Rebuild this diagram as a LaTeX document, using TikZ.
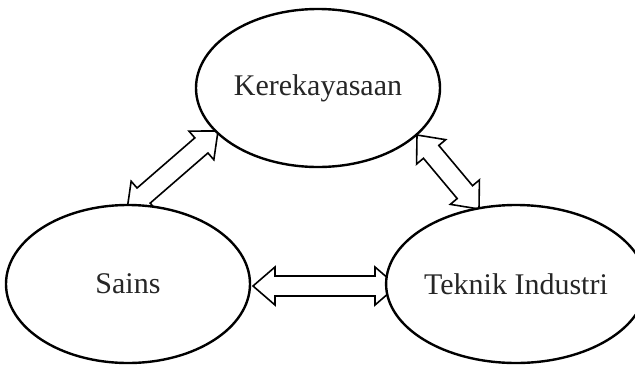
\documentclass[tikz,border=0pt]{standalone}
\usepackage{fontspec}
\setmainfont{Liberation Serif}
\usetikzlibrary{calc,shapes.geometric}

% block double arrow between two tip coordinates
\newcommand\baHead{22pt}   % head length
\newcommand\baWing{19pt}   % half width of the head
\newcommand\baShaft{10pt}  % half width of the shaft
\newcommand\blockarrow[2]{%
  \draw[blockarrow] (#1)
    -- ($(#1)!\baHead!(#2)!\baWing!90:(#2)$)
    -- ($(#1)!\baHead!(#2)!\baShaft!90:(#2)$)
    -- ($(#2)!\baHead!(#1)!\baShaft!-90:(#1)$)
    -- ($(#2)!\baHead!(#1)!\baWing!-90:(#1)$)
    -- (#2)
    -- ($(#2)!\baHead!(#1)!\baWing!90:(#1)$)
    -- ($(#2)!\baHead!(#1)!\baShaft!90:(#1)$)
    -- ($(#1)!\baHead!(#2)!\baShaft!-90:(#2)$)
    -- ($(#1)!\baHead!(#2)!\baWing!-90:(#2)$)
    -- cycle;}

\tikzset{
  topic/.style={ellipse, draw=black, line width=2.4pt, fill=white,
    minimum width=244pt, minimum height=158pt, inner sep=0pt,
    text=black!85, font=\fontsize{30}{36}\selectfont},
  blockarrow/.style={draw=black, line width=1.6pt, fill=white, line join=miter}
}

\begin{document}
\begin{tikzpicture}[x=1pt, y=-1pt]
  \useasboundingbox (0,0) rectangle (635,368);

  % tips of the three double arrows
  \coordinate (ks1) at (218,131);
  \coordinate (ks2) at (127,210);
  \coordinate (kt1) at (417,135);
  \coordinate (kt2) at (479,209);
  \coordinate (st1) at (253,286);
  \coordinate (st2) at (397,286);

  \blockarrow{ks2}{ks1}
  \blockarrow{kt1}{kt2}
  \blockarrow{st1}{st2}

  % the three fields
  \node[topic] (K) at (318,88)  {Kerekayasaan};
  \node[topic] (S) at (128,284) {Sains};
  \node[topic] (T) at (516,284) {Teknik Industri};
\end{tikzpicture}
\end{document}
